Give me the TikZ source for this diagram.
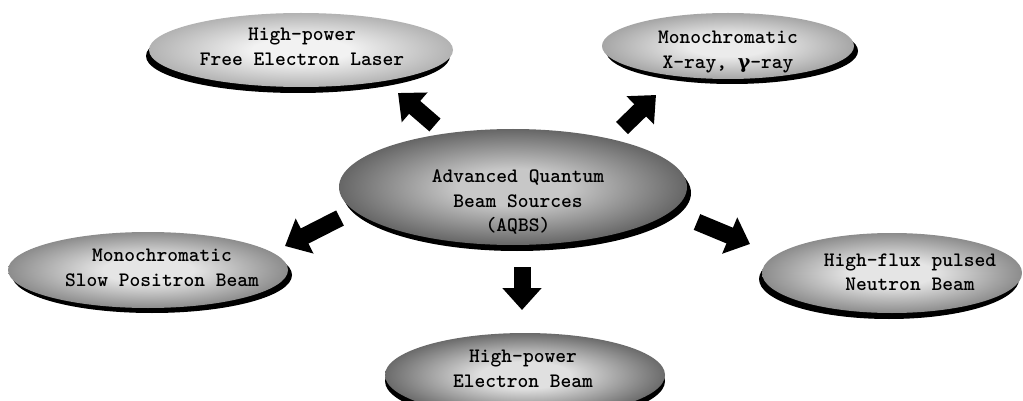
\documentclass[tikz,border=0pt]{standalone}
\usepackage{fontspec}
\newfontfamily\gfont{DejaVu Serif}
\usetikzlibrary{shapes.geometric,arrows.meta}
\colorlet{stipc}{gray}
\colorlet{stipi}{white}
\pgfdeclareradialshading[stipc,stipi]{stip}{\pgfpoint{0bp}{0bp}}{color(0bp)=(stipi);color(8bp)=(stipi);color(25bp)=(stipc);color(50bp)=(stipc)}
\tikzset{
  bub/.style 2 args={ellipse, draw=none, inner sep=0pt, /utils/exec={\colorlet{stipi}{#1}\colorlet{stipc}{#2}}, shading=stip},
  shad/.style={fill=black},
  lab/.style={align=center, font=\ttfamily\bfseries\fontsize{20.5}{24.5}\selectfont, inner sep=0pt},
  fat/.style={draw=black, line width=17pt, -{Triangle[width=38pt,length=22pt]}}
}
\begin{document}
\begin{tikzpicture}[x=1pt,y=-1pt]
\fill[white] (0,0) rectangle (1023,401);
\useasboundingbox (0,0) rectangle (1023,401);
% shadows
\fill[shad] (298,56) ellipse [x radius=152, y radius=37];
\fill[shad] (732,51) ellipse [x radius=126, y radius=33];
\fill[shad] (517,193) ellipse [x radius=174, y radius=58];
\fill[shad] (152,275) ellipse [x radius=140, y radius=38];
\fill[shad] (889,279) ellipse [x radius=130, y radius=40];
\fill[shad] (525,381) ellipse [x radius=140, y radius=42];
% bubbles
\node[bub={white!95!black}{white!70!black}, minimum width=304pt, minimum height=74pt] (fel) at (301,50) {};
\node[bub={white!92!black}{white!65!black}, minimum width=252pt, minimum height=66pt] (xr) at (728,46) {};
\node[bub={white!78!black}{white!40!black}, minimum width=348pt, minimum height=116pt] (cen) at (513,187) {};
\node[bub={white!90!black}{white!55!black}, minimum width=280pt, minimum height=76pt] (pos) at (148,270) {};
\node[bub={white!90!black}{white!55!black}, minimum width=260pt, minimum height=80pt] (neu) at (892,273) {};
\node[bub={white!88!black}{white!42!black}, minimum width=280pt, minimum height=84pt] (ebm) at (525,375) {};
% labels
\node[lab] (felt) at (302,47) {High-power\\Free Electron Laser};
\node[lab] (xrt) at (728,52) {Monochromatic\\X-ray, {\gfont\bfseries\fontsize{19}{24.5}\selectfont γ}-ray};
\node[lab] (cent) at (518,202) {Advanced Quantum\\Beam Sources\\(AQBS)};
\node[lab] (post) at (162,268) {Monochromatic\\Slow Positron Beam};
\node[lab] (neut) at (910,272) {High-flux pulsed\\Neutron Beam};
\node[lab] (ebmt) at (523,369) {High-power\\Electron Beam};
% arrows
\coordinate (a1s) at (435,125); \coordinate (a1e) at (398,93);
\coordinate (a2s) at (622,128); \coordinate (a2e) at (656,95);
\coordinate (a3s) at (340,218); \coordinate (a3e) at (285,246);
\coordinate (a4s) at (697,222); \coordinate (a4e) at (750,244);
\coordinate (a5s) at (522,267); \coordinate (a5e) at (522,310);
\draw[fat] (a1s) -- (a1e);
\draw[fat] (a2s) -- (a2e);
\draw[fat] (a3s) -- (a3e);
\draw[fat] (a4s) -- (a4e);
\draw[fat] (a5s) -- (a5e);
\end{tikzpicture}
\end{document}
